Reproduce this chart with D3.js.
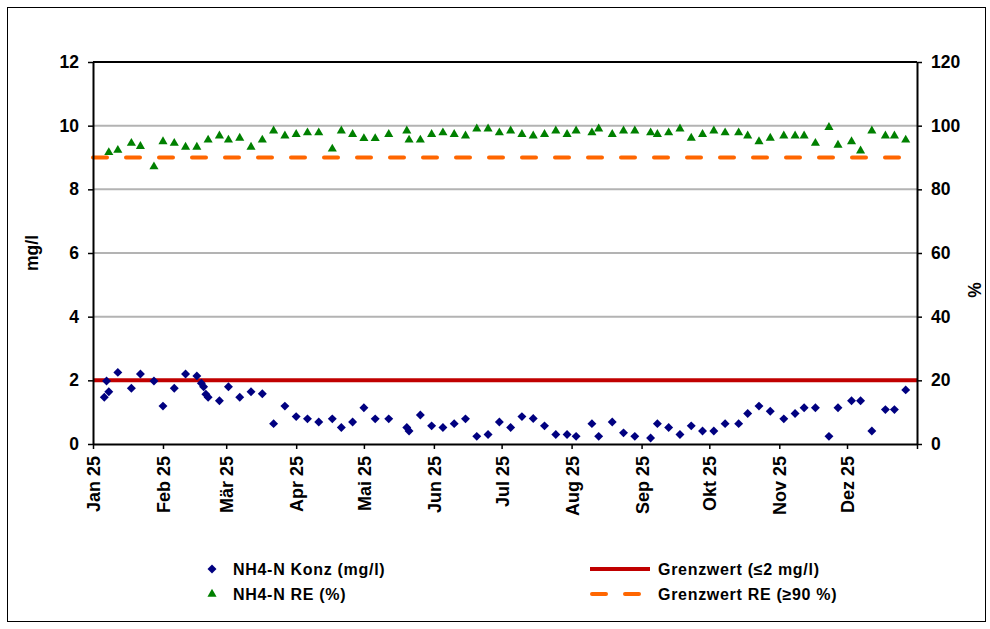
<!DOCTYPE html>
<html>
<head>
<meta charset="utf-8">
<script src="https://cdn.jsdelivr.net/npm/d3@7"></script>
<style>
  body { margin: 0; background: #fff; }
  svg text { font-family: Arial, "Liberation Sans", sans-serif; font-weight: bold; fill: #000; }
</style>
</head>
<body>
<div id="chart"></div>
<script>
// sample dates and values
const konzDates = ["2025-01-06","2025-01-07","2025-01-08","2025-01-12","2025-01-18","2025-01-22","2025-01-28",
  "2025-02-01","2025-02-06","2025-02-11","2025-02-16","2025-02-18","2025-02-19","2025-02-20","2025-02-21","2025-02-26",
  "2025-03-02","2025-03-07","2025-03-12","2025-03-17","2025-03-22","2025-03-27",
  "2025-04-01","2025-04-06","2025-04-11","2025-04-17","2025-04-21","2025-04-26",
  "2025-05-01","2025-05-06","2025-05-12","2025-05-20","2025-05-21","2025-05-26","2025-05-31",
  "2025-06-05","2025-06-10","2025-06-15","2025-06-20","2025-06-25","2025-06-30",
  "2025-07-05","2025-07-10","2025-07-15","2025-07-20","2025-07-25","2025-07-30",
  "2025-08-03","2025-08-10","2025-08-13","2025-08-19","2025-08-24","2025-08-29",
  "2025-09-05","2025-09-08","2025-09-13","2025-09-18","2025-09-23","2025-09-28",
  "2025-10-03","2025-10-08","2025-10-14","2025-10-18","2025-10-23","2025-10-28",
  "2025-11-03","2025-11-08","2025-11-12","2025-11-17","2025-11-23","2025-11-27",
  "2025-12-03","2025-12-07","2025-12-12","2025-12-18","2025-12-22","2025-12-27"];
const konzValues = [1.47,1.98,1.64,2.25,1.75,2.20,1.98,
  1.19,1.75,2.20,2.14,1.91,1.80,1.56,1.47,1.36,
  1.80,1.47,1.64,1.58,0.64,1.19,
  0.86,0.79,0.69,0.79,0.52,0.69,
  1.14,0.79,0.79,0.52,0.41,0.91,0.57,
  0.52,0.64,0.79,0.24,0.30,0.69,
  0.52,0.86,0.80,0.57,0.30,0.30,
  0.24,0.64,0.24,0.69,0.35,0.24,
  0.19,0.64,0.52,0.30,0.57,0.41,
  0.41,0.64,0.64,0.96,1.19,1.03,
  0.79,0.96,1.14,1.14,0.24,1.14,
  1.36,1.36,0.41,1.08,1.08,1.70];

const reDates = ["2025-01-08","2025-01-12","2025-01-18","2025-01-22","2025-01-28",
  "2025-02-01","2025-02-06","2025-02-11","2025-02-16","2025-02-21","2025-02-26",
  "2025-03-02","2025-03-07","2025-03-12","2025-03-17","2025-03-22","2025-03-27",
  "2025-04-01","2025-04-06","2025-04-11","2025-04-17","2025-04-21","2025-04-26",
  "2025-05-01","2025-05-06","2025-05-12","2025-05-20","2025-05-21","2025-05-26","2025-05-31",
  "2025-06-05","2025-06-10","2025-06-15","2025-06-20","2025-06-25","2025-06-30",
  "2025-07-05","2025-07-10","2025-07-15","2025-07-20","2025-07-25","2025-07-30",
  "2025-08-03","2025-08-10","2025-08-13","2025-08-19","2025-08-24","2025-08-29",
  "2025-09-05","2025-09-08","2025-09-13","2025-09-18","2025-09-23","2025-09-28",
  "2025-10-03","2025-10-08","2025-10-14","2025-10-18","2025-10-23","2025-10-28",
  "2025-11-03","2025-11-08","2025-11-12","2025-11-17","2025-11-23","2025-11-27",
  "2025-12-03","2025-12-07","2025-12-12","2025-12-18","2025-12-22","2025-12-27"];
const reValues = [91.6,92.3,94.5,93.5,87.1,
  95.0,94.5,93.3,93.3,95.5,96.8,
  95.5,96.1,93.3,95.5,98.4,96.8,
  97.3,97.8,97.8,92.7,98.4,97.3,
  96.0,96.0,97.3,98.4,95.5,95.5,97.3,
  97.8,97.3,96.8,99.0,99.0,97.8,
  98.4,97.3,96.8,97.3,98.4,97.3,
  98.4,97.8,99.0,97.3,98.4,98.4,
  97.8,97.3,97.8,99.0,96.1,97.3,
  98.4,97.8,97.8,96.8,95.0,96.1,
  96.8,96.8,96.8,94.5,99.5,93.9,
  95.0,92.1,98.4,96.8,96.8,95.5];

const grenzwert = 2;      // mg/l
const grenzwertRE = 90;   // %
const monthLabels = ["Jan 25","Feb 25","Mär 25","Apr 25","Mai 25","Jun 25","Jul 25","Aug 25","Sep 25","Okt 25","Nov 25","Dez 25"];
const leftTicks = [0,2,4,6,8,10,12];
const rightTicks = [0,20,40,60,80,100,120];
const legendLabels = ["NH4-N Konz (mg/l)","NH4-N RE (%)","Grenzwert (≤2 mg/l)","Grenzwert RE (≥90 %)"];

const W = 990, H = 629;
const plot = {left: 93, right: 917, top: 62, bottom: 444};
const navy = "#000080", green = "#008000", red = "#c00000", orange = "#ff6600";

const parse = d3.timeParse("%Y-%m-%d");
const konz = konzDates.map((d, i) => ({date: parse(d), value: konzValues[i]}));
const re = reDates.map((d, i) => ({date: parse(d), value: reValues[i]}));

const svg = d3.select("#chart").append("svg")
  .attr("width", W).attr("height", H);

// chart area border
svg.append("rect")
  .attr("x", 7.5).attr("y", 7.5).attr("width", 978).attr("height", 614)
  .attr("fill", "#fff").attr("stroke", "#000").attr("stroke-width", 1);

// scales
const x = d3.scaleTime()
  .domain([new Date(2025, 0, 1), new Date(2026, 0, 1)])
  .range([plot.left, plot.right]);
const yL = d3.scaleLinear().domain([0, 12]).range([plot.bottom, plot.top]);
const yR = d3.scaleLinear().domain([0, 120]).range([plot.bottom, plot.top]);

// gridlines
svg.append("g")
  .selectAll("line")
  .data(leftTicks.filter(t => t > 0 && t < 12))
  .join("line")
    .attr("x1", plot.left).attr("x2", plot.right)
    .attr("y1", d => yL(d)).attr("y2", d => yL(d))
    .attr("stroke", "#b3b3b3").attr("stroke-width", 2);

// top border of plot area
svg.append("line")
  .attr("x1", plot.left).attr("x2", plot.right)
  .attr("y1", plot.top).attr("y2", plot.top)
  .attr("stroke", "#000").attr("stroke-width", 2);

// limit lines
svg.append("line")
  .attr("x1", x.range()[0]).attr("x2", x.range()[1])
  .attr("y1", yL(grenzwert)).attr("y2", yL(grenzwert))
  .attr("stroke", red).attr("stroke-width", 4);
svg.append("line")
  .attr("x1", x.range()[0]).attr("x2", x.range()[1])
  .attr("y1", yR(grenzwertRE)).attr("y2", yR(grenzwertRE))
  .attr("stroke", orange).attr("stroke-width", 4)
  .attr("stroke-linecap", "round")
  .attr("stroke-dasharray", "14,19");

// axes
const styleAxis = g => {
  g.select(".domain").attr("stroke", "#000").attr("stroke-width", 2);
  g.selectAll(".tick line").attr("stroke", "#000").attr("stroke-width", 1.5);
  g.selectAll(".tick text").attr("font-size", 17.5).attr("font-family", "Arial, 'Liberation Sans', sans-serif").attr("font-weight", "bold");
};

svg.append("g")
  .attr("transform", `translate(${plot.left},0)`)
  .call(d3.axisLeft(yL).tickValues(leftTicks).tickSize(5).tickSizeOuter(0).tickPadding(9))
  .call(styleAxis);

svg.append("g")
  .attr("transform", `translate(${plot.right},0)`)
  .call(d3.axisRight(yR).tickValues(rightTicks).tickSize(5).tickSizeOuter(0).tickPadding(9))
  .call(styleAxis);

const monthTicks = d3.timeMonth.range(new Date(2025, 0, 1), new Date(2026, 0, 2));
svg.append("g")
  .attr("transform", `translate(0,${plot.bottom})`)
  .call(d3.axisBottom(x).tickValues(monthTicks).tickSize(5).tickSizeOuter(0)
    .tickFormat((d, i) => monthLabels[i] || ""))
  .call(styleAxis)
  .call(g => g.selectAll(".tick text")
    .attr("transform", "rotate(-90)")
    .attr("text-anchor", "end")
    .attr("x", -12).attr("y", 0).attr("dy", "0.36em")
    .attr("font-size", 18));

// axis titles
svg.append("text")
  .attr("transform", "translate(38,253) rotate(-90)")
  .attr("text-anchor", "middle").attr("font-size", 17.5)
  .text("mg/l");
svg.append("text")
  .attr("transform", "translate(981,290) rotate(-90)")
  .attr("text-anchor", "middle").attr("font-size", 17.5)
  .text("%");

// markers
const diamond = d3.symbol().type(d3.symbolSquare).size(40);
const triangle = d3.symbol().type(d3.symbolTriangle).size(36);

svg.append("g")
  .selectAll("path")
  .data(re)
  .join("path")
    .attr("d", triangle)
    .attr("transform", d => `translate(${x(d.date)},${yR(d.value)})`)
    .attr("fill", green);

svg.append("g")
  .selectAll("path")
  .data(konz)
  .join("path")
    .attr("d", diamond)
    .attr("transform", d => `translate(${x(d.date)},${yL(d.value)}) rotate(45)`)
    .attr("fill", navy);

// legend
const legend = svg.append("g");
const legendText = (lx, ly, t) => legend.append("text")
  .attr("x", lx).attr("y", ly).attr("dy", "0.36em")
  .attr("font-size", 16).attr("letter-spacing", 0.7)
  .text(t);

legend.append("path").attr("d", diamond)
  .attr("transform", "translate(212,569) rotate(45)").attr("fill", navy);
legendText(233, 569, legendLabels[0]);
legend.append("path").attr("d", triangle)
  .attr("transform", "translate(212,594)").attr("fill", green);
legendText(233, 594, legendLabels[1]);

legend.append("line")
  .attr("x1", 590).attr("x2", 650).attr("y1", 569).attr("y2", 569)
  .attr("stroke", red).attr("stroke-width", 4);
legendText(658, 569, legendLabels[2]);
legend.append("line")
  .attr("x1", 592).attr("x2", 650).attr("y1", 594).attr("y2", 594)
  .attr("stroke", orange).attr("stroke-width", 4)
  .attr("stroke-linecap", "round").attr("stroke-dasharray", "14,19");
legendText(658, 594, legendLabels[3]);
</script>
</body>
</html>
